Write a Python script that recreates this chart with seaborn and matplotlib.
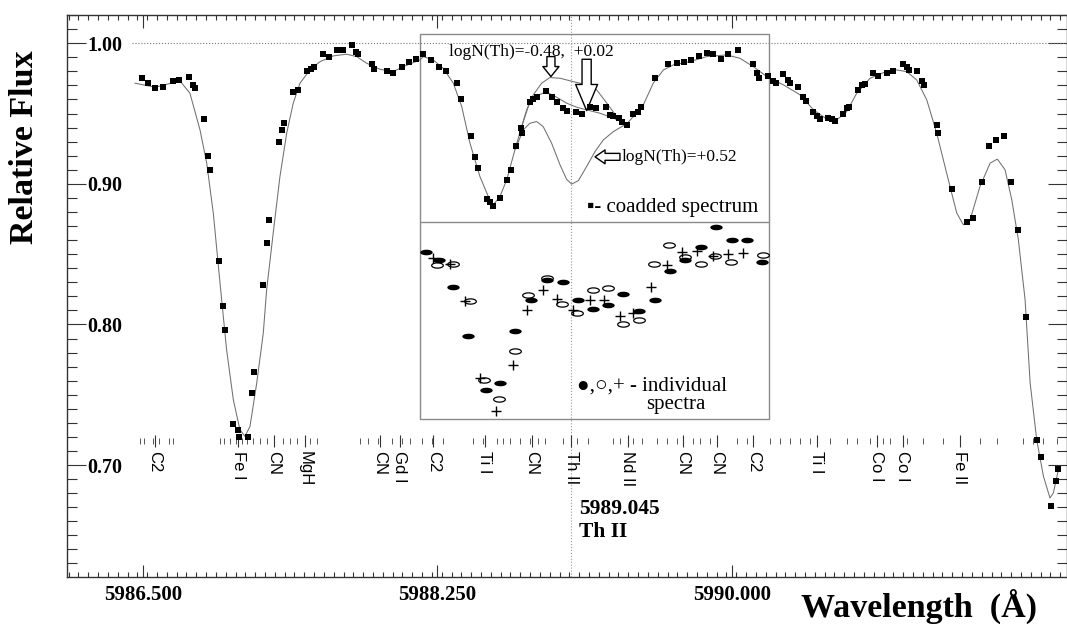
import numpy as np
import pandas as pd
import matplotlib
matplotlib.use("Agg")
import matplotlib.pyplot as plt
import seaborn as sns
from matplotlib.path import Path
from matplotlib.markers import MarkerStyle
from matplotlib.patches import Rectangle
from matplotlib.ticker import FixedLocator, FormatStrFormatter

# coadded spectrum (black squares)
coadd_wl = [5986.492, 5986.532, 5986.573, 5986.621, 5986.681, 5986.715, 5986.772, 5986.795,
            5986.809, 5986.862, 5986.886, 5986.896, 5986.952, 5986.975, 5986.987, 5987.033,
            5987.064, 5987.072, 5987.122, 5987.149, 5987.161, 5987.215, 5987.239, 5987.251,
            5987.306, 5987.328, 5987.340, 5987.391, 5987.421, 5987.476, 5987.500, 5987.516,
            5987.568, 5987.603, 5987.650, 5987.690, 5987.742, 5987.766, 5987.776, 5987.858,
            5987.871, 5987.948, 5987.987, 5988.039, 5988.082, 5988.122, 5988.166, 5988.211,
            5988.260, 5988.300, 5988.364, 5988.389, 5988.447, 5988.474, 5988.490, 5988.546,
            5988.562, 5988.578, 5988.621, 5988.665, 5988.687, 5988.714, 5988.746, 5988.752,
            5988.799, 5988.819, 5988.839, 5988.894, 5988.928, 5988.958, 5988.997, 5989.017,
            5989.072, 5989.106, 5989.156, 5989.191, 5989.249, 5989.273, 5989.293, 5989.329,
            5989.349, 5989.373, 5989.413, 5989.439, 5989.457, 5989.542, 5989.621, 5989.671,
            5989.714, 5989.756, 5989.803, 5989.849, 5989.889, 5989.935, 5989.978, 5990.038,
            5990.123, 5990.147, 5990.163, 5990.216, 5990.246, 5990.259, 5990.305, 5990.335,
            5990.345, 5990.394, 5990.423, 5990.438, 5990.483, 5990.502, 5990.522, 5990.572,
            5990.592, 5990.611, 5990.661, 5990.685, 5990.697, 5990.746, 5990.770, 5990.790,
            5990.839, 5990.869, 5990.923, 5990.958, 5991.018, 5991.038, 5991.051, 5991.101,
            5991.130, 5991.142, 5991.216, 5991.226, 5991.305, 5991.394, 5991.434, 5991.483,
            5991.525, 5991.568, 5991.618, 5991.657, 5991.697, 5991.745, 5991.810, 5991.834,
            5991.895, 5991.923, 5991.934]
coadd_flux = [0.975, 0.972, 0.968, 0.969, 0.973, 0.974, 0.976, 0.970,
              0.968, 0.946, 0.920, 0.910, 0.845, 0.813, 0.796, 0.729,
              0.725, 0.720, 0.720, 0.751, 0.766, 0.828, 0.858, 0.874,
              0.930, 0.938, 0.943, 0.965, 0.967, 0.980, 0.982, 0.983,
              0.992, 0.990, 0.995, 0.995, 0.999, 0.994, 0.992, 0.985,
              0.982, 0.980, 0.979, 0.983, 0.987, 0.989, 0.992, 0.988,
              0.983, 0.980, 0.972, 0.960, 0.934, 0.919, 0.911, 0.889,
              0.887, 0.884, 0.890, 0.903, 0.910, 0.927, 0.940, 0.936,
              0.958, 0.960, 0.962, 0.966, 0.962, 0.958, 0.954, 0.952,
              0.951, 0.950, 0.955, 0.954, 0.955, 0.949, 0.948, 0.947,
              0.944, 0.942, 0.950, 0.951, 0.955, 0.975, 0.985, 0.986,
              0.987, 0.988, 0.991, 0.993, 0.992, 0.989, 0.992, 0.995,
              0.985, 0.979, 0.975, 0.977, 0.973, 0.972, 0.978, 0.974,
              0.972, 0.969, 0.962, 0.959, 0.951, 0.948, 0.946, 0.947,
              0.946, 0.945, 0.950, 0.954, 0.955, 0.967, 0.970, 0.971,
              0.979, 0.977, 0.979, 0.980, 0.985, 0.983, 0.981, 0.980,
              0.973, 0.970, 0.942, 0.936, 0.896, 0.873, 0.876, 0.901,
              0.927, 0.931, 0.934, 0.901, 0.867, 0.805, 0.718, 0.706,
              0.671, 0.689, 0.697]

# synthetic spectrum, logN(Th)=+0.02
fit_wl = [5986.452, 5986.573, 5986.720, 5986.779, 5986.839, 5986.879, 5986.918, 5986.958,
          5986.997, 5987.037, 5987.076, 5987.106, 5987.136, 5987.176, 5987.215, 5987.235,
          5987.274, 5987.314, 5987.354, 5987.393, 5987.433, 5987.492, 5987.552, 5987.631,
          5987.710, 5987.770, 5987.829, 5987.908, 5987.987, 5988.047, 5988.146, 5988.166,
          5988.225, 5988.284, 5988.344, 5988.394, 5988.443, 5988.502, 5988.552, 5988.582,
          5988.621, 5988.661, 5988.710, 5988.750, 5988.799, 5988.849, 5988.899, 5988.958,
          5989.017, 5989.077, 5989.136, 5989.216, 5989.295, 5989.374, 5989.413, 5989.473,
          5989.532, 5989.592, 5989.651, 5989.750, 5989.849, 5989.968, 5990.047, 5990.126,
          5990.206, 5990.305, 5990.404, 5990.484, 5990.563, 5990.622, 5990.681, 5990.741,
          5990.820, 5990.899, 5990.978, 5991.038, 5991.097, 5991.157, 5991.216, 5991.275,
          5991.335, 5991.374, 5991.414, 5991.473, 5991.533, 5991.576, 5991.622, 5991.662,
          5991.701, 5991.741, 5991.771, 5991.810, 5991.850, 5991.889, 5991.909, 5991.939]
fit_flux = [0.9716, 0.9687, 0.9732, 0.9645, 0.9384, 0.9147, 0.8792, 0.8294,
            0.7820, 0.7465, 0.7252, 0.7204, 0.7275, 0.7583, 0.7939, 0.8247,
            0.8650, 0.9052, 0.9360, 0.9574, 0.9716, 0.9810, 0.9869, 0.9910,
            0.9922, 0.9905, 0.9858, 0.9815, 0.9798, 0.9834, 0.9881, 0.9905,
            0.9881, 0.9822, 0.9716, 0.9549, 0.9289, 0.9052, 0.8910, 0.8851,
            0.8910, 0.9028, 0.9242, 0.9407, 0.9585, 0.9633, 0.9652, 0.9616,
            0.9574, 0.9545, 0.9526, 0.9502, 0.9467, 0.9426, 0.9478, 0.9562,
            0.9716, 0.9810, 0.9846, 0.9869, 0.9905, 0.9917, 0.9893, 0.9834,
            0.9763, 0.9704, 0.9633, 0.9526, 0.9460, 0.9455, 0.9514, 0.9645,
            0.9751, 0.9791, 0.9810, 0.9798, 0.9739, 0.9597, 0.9360, 0.9076,
            0.8792, 0.8709, 0.8744, 0.8981, 0.9147, 0.9176, 0.9100, 0.8886,
            0.8602, 0.8176, 0.7584, 0.7181, 0.6920, 0.6766, 0.6802, 0.6967]

# synthetic spectrum, logN(Th)=-0.48 (where it departs from the fit)
high_wl = [5988.750, 5988.780, 5988.819, 5988.869, 5988.918, 5988.978, 5989.057, 5989.136,
           5989.196, 5989.256, 5989.315, 5989.374]
high_flux = [0.9407, 0.9526, 0.9633, 0.9716, 0.9756, 0.9751, 0.9727, 0.9704,
             0.9668, 0.9574, 0.9478, 0.9426]

# synthetic spectrum, logN(Th)=+0.52
low_wl = [5988.710, 5988.760, 5988.799, 5988.839, 5988.878, 5988.928, 5988.978, 5989.017,
          5989.047, 5989.087, 5989.136, 5989.186, 5989.235, 5989.295, 5989.345, 5989.374]
low_flux = [0.9242, 0.9384, 0.9431, 0.9443, 0.9407, 0.9289, 0.9135, 0.9033,
            0.8998, 0.9023, 0.9123, 0.9230, 0.9312, 0.9372, 0.9407, 0.9426]

# individual spectra (lower panel of the inset)
ind1_wl = [5988.182, 5988.261, 5988.344, 5988.433, 5988.538, 5988.621, 5988.710, 5988.806,
           5988.899, 5988.994, 5989.087, 5989.172, 5989.261, 5989.350, 5989.447, 5989.542,
           5989.631, 5989.721, 5989.816, 5989.905, 5989.998, 5990.087, 5990.176]
ind1_flux = [0.8512, 0.8455, 0.8263, 0.7915, 0.7536, 0.7584, 0.7950, 0.8171,
             0.8318, 0.8299, 0.8176, 0.8110, 0.8135, 0.8216, 0.8097, 0.8176,
             0.8377, 0.8455, 0.8550, 0.8692, 0.8602, 0.8602, 0.8441]
ind2_wl = [5988.249, 5988.344, 5988.443, 5988.528, 5988.617, 5988.710, 5988.790, 5988.899,
           5988.988, 5989.077, 5989.172, 5989.261, 5989.354, 5989.447, 5989.536, 5989.627,
           5989.721, 5989.816, 5989.899, 5989.994, 5990.186]
ind2_flux = [0.8424, 0.8431, 0.8164, 0.7607, 0.7472, 0.7808, 0.8211, 0.8330,
             0.8147, 0.8081, 0.8242, 0.8259, 0.8005, 0.8033, 0.8429, 0.8566,
             0.8483, 0.8429, 0.8488, 0.8441, 0.8495]
ind3_wl = [5988.221, 5988.324, 5988.413, 5988.503, 5988.598, 5988.700, 5988.784, 5988.879,
           5988.958, 5989.057, 5989.156, 5989.239, 5989.334, 5989.413, 5989.517, 5989.612,
           5989.701, 5989.790, 5989.885, 5989.978, 5990.067]
ind3_flux = [0.8472, 0.8431, 0.8164, 0.7619, 0.7387, 0.7709, 0.8105, 0.8247,
             0.8181, 0.8100, 0.8176, 0.8176, 0.8057, 0.8081, 0.8266, 0.8424,
             0.8512, 0.8519, 0.8488, 0.8503, 0.8508]

# identified lines
line_labels = ["C2", "Fe I", "CN", "MgH", "CN", "Gd I", "C2", "Ti I", "CN", "Th II",
               "Nd II", "CN", "CN", "C2", "Ti I", "Co I", "Co I", "Fe II"]
line_label_wl = [5986.571, 5987.066, 5987.278, 5987.463, 5987.908, 5988.027, 5988.225,
                 5988.532, 5988.810, 5989.045, 5989.380, 5989.707, 5989.909, 5990.126,
                 5990.503, 5990.860, 5991.014, 5991.354]
# other lines of the line list (small ticks)
line_list_wl = [5986.482, 5986.506, 5986.561, 5986.597, 5986.656, 5986.680, 5986.958, 5986.981,
                5987.017, 5987.053, 5987.086, 5987.120, 5987.155, 5987.195, 5987.235, 5987.334,
                5987.373, 5987.413, 5987.492, 5987.532, 5987.789, 5987.839, 5987.898, 5987.978,
                5988.037, 5988.087, 5988.156, 5988.215, 5988.284, 5988.463, 5988.522, 5988.602,
                5988.641, 5988.681, 5988.740, 5988.800, 5988.849, 5988.889, 5988.997, 5989.077,
                5989.146, 5989.295, 5989.334, 5989.413, 5989.463, 5989.552, 5989.612, 5989.671,
                5989.770, 5989.810, 5989.869, 5990.028, 5990.087, 5990.226, 5990.285, 5990.345,
                5990.404, 5990.463, 5990.582, 5990.681, 5990.741, 5990.820, 5990.899, 5990.939,
                5991.038, 5991.137, 5991.255, 5991.473, 5991.573, 5991.731, 5991.790, 5991.850,
                5991.929]

th_wl = 5989.045
x_ticks = [5986.5, 5988.25, 5990.0]
y_ticks = [0.70, 0.80, 0.90, 1.00]

sns.set_theme(style="ticks")
plt.rcParams["font.family"] = ["Liberation Serif", "DejaVu Sans"]
plt.rcParams["text.color"] = "black"
plt.rcParams["xtick.labelcolor"] = "black"
plt.rcParams["ytick.labelcolor"] = "black"

fig = plt.figure(figsize=(10.67, 6.24), dpi=100)
ax = fig.add_axes([0.0625, 0.0758, 0.9375, 0.9002])
ax.set_xlim(5986.047, 5991.99)
ax.set_ylim(0.6206, 1.0201)

# reference lines
ax.hlines(1.0, 5986.433, 5991.99, colors="#777777", linestyles=":", lw=0.8)
ax.axvline(th_wl, color="#999999", ls=":", lw=0.8)

# inset frame
ax.add_patch(Rectangle((5988.149, 0.733), 2.071, 0.2736, fill=False,
                       ec="#8a8a8a", lw=1.0, zorder=2))
ax.hlines(0.873, 5988.149, 5990.22, colors="#8a8a8a", lw=1.0, zorder=2)

# synthetic spectra
for wl, fl in [(fit_wl, fit_flux), (high_wl, high_flux), (low_wl, low_flux)]:
    sns.lineplot(x=wl, y=fl, sort=False, estimator=None, color="#707070",
                 lw=0.75, ax=ax, zorder=3)

# coadded spectrum
sns.scatterplot(x=coadd_wl, y=coadd_flux, marker="s", s=17, color="black",
                edgecolor="black", linewidth=0, ax=ax, zorder=4)

# individual spectra
t = np.linspace(0, 2 * np.pi, 41)
ellipse = MarkerStyle(Path(np.column_stack([np.cos(t), 0.45 * np.sin(t)]), closed=True))
sns.scatterplot(x=ind2_wl, y=ind2_flux, marker=ellipse, s=70, color="white",
                edgecolor="black", linewidth=0.9, ax=ax, zorder=4)
sns.scatterplot(x=ind1_wl, y=ind1_flux, marker=ellipse, s=80, color="black",
                edgecolor="black", linewidth=0, ax=ax, zorder=5)
sns.scatterplot(x=ind3_wl, y=ind3_flux, marker="+", s=55, color="black",
                linewidth=1.0, ax=ax, zorder=5)

# line identifications
ax.vlines(line_list_wl, 0.7153, 0.7195, colors="#555555", lw=0.7)
ax.vlines(line_label_wl, 0.7125, 0.7215, colors="#333333", lw=0.8)
for name, wl in zip(line_labels, line_label_wl):
    ax.text(wl, 0.7102, name, rotation=-90, ha="center", va="top",
            fontsize=12, family="Liberation Sans", color="black")

# annotations
ax.text(5988.318, 0.9938, "logN(Th)=-0.48,  +0.02", fontsize=12.5, va="center")
ax.text(5989.344, 0.9194, "logN(Th)=+0.52", fontsize=12.5, va="center")
ax.text(5989.141, 0.8830, "▪- coadded spectrum", fontsize=15, va="center",
        family=["Liberation Serif", "DejaVu Sans"])
ax.text(5989.079, 0.7564, "●,○,+ - individual", fontsize=15, va="center",
        family=["Liberation Serif", "DejaVu Sans"])
ax.text(5989.489, 0.7429, "spectra", fontsize=15, va="center")
ax.text(5989.091, 0.6690, "5989.045", fontsize=15.5, fontweight="bold", va="center")
ax.text(5989.091, 0.6527, "Th II", fontsize=15.5, fontweight="bold", va="center")

arrow_kw = dict(fc="white", ec="black", lw=1.0, shrinkA=0, shrinkB=0)
ax.annotate("", xy=(5988.924, 0.9763), xytext=(5988.924, 0.9905),
            arrowprops=dict(arrowstyle="simple,head_length=0.36,head_width=0.58,tail_width=0.29",
                            mutation_scale=20, **arrow_kw))
ax.annotate("", xy=(5989.136, 0.9521), xytext=(5989.136, 0.9886),
            arrowprops=dict(arrowstyle="simple,head_length=0.94,head_width=0.79,tail_width=0.33",
                            mutation_scale=20, **arrow_kw))
ax.annotate("", xy=(5989.186, 0.9192), xytext=(5989.334, 0.9192),
            arrowprops=dict(arrowstyle="simple,head_length=0.36,head_width=0.5,tail_width=0.25",
                            mutation_scale=20, **arrow_kw))

# axes styling
ax.xaxis.set_major_locator(FixedLocator(x_ticks))
ax.xaxis.set_minor_locator(FixedLocator(np.arange(5986.0, 5992.0, 1.75 / 30)))
ax.yaxis.set_major_locator(FixedLocator(y_ticks))
ax.yaxis.set_minor_locator(FixedLocator(np.arange(0.62, 1.021, 0.01)))
ax.xaxis.set_major_formatter(FormatStrFormatter("%.3f"))
ax.yaxis.set_major_formatter(FormatStrFormatter("%.2f"))
ax.tick_params(axis="both", which="both", direction="in", top=True, right=True,
               color="#333333", width=0.8, labelcolor="black")
ax.tick_params(axis="x", which="major", length=9, pad=6, labelsize=15)
ax.tick_params(axis="x", which="minor", length=3.5)
ax.tick_params(axis="y", which="major", length=14, pad=-15, labelsize=14.5)
ax.tick_params(axis="y", which="minor", length=7)
for lab in ax.get_xticklabels() + ax.get_yticklabels():
    lab.set_fontweight("bold")
for lab in ax.get_yticklabels():
    lab.set_horizontalalignment("left")
for side in ["left", "bottom", "top", "right"]:
    ax.spines[side].set_color("#333333")
    ax.spines[side].set_linewidth(1.0)

fig.text(0.0234, 0.7636, "Relative Flux", rotation=90, ha="center", va="center",
         fontsize=24.5, fontweight="bold", color="black")
fig.text(0.861, 0.0288, "Wavelength  (Å)", ha="center", va="center",
         fontsize=24.5, fontweight="bold", color="black")

fig.savefig("out.png", dpi=100)
